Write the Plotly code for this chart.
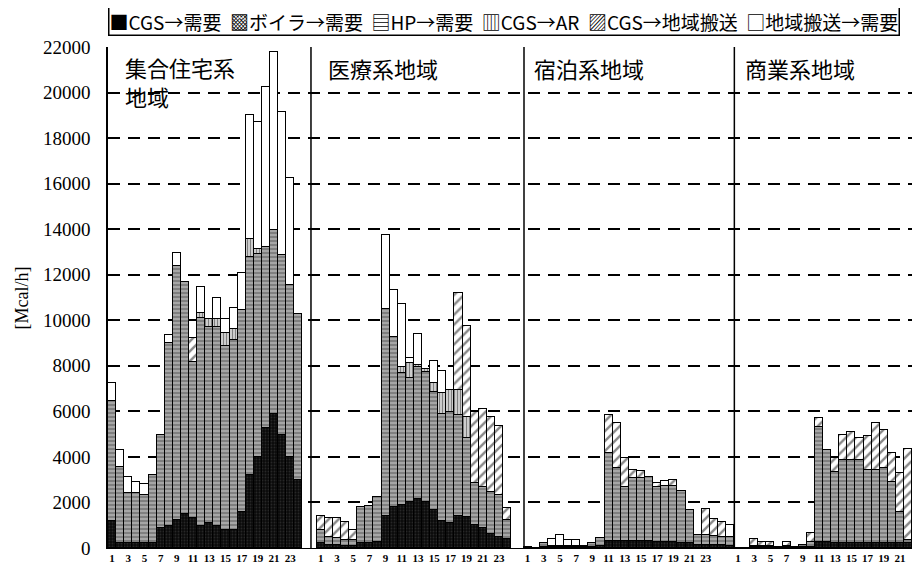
import plotly.graph_objects as go

# 時刻 (panel 3 shows 26 slots in the source figure)
hours24 = list(range(1, 25))
hours26 = list(range(1, 27))

panels = ["集合住宅系<br>地域", "医療系地域", "宿泊系地域", "商業系地域"]

# [Mcal/h]  CGS→需要
cgs1 = [1200, 200, 200, 200, 200, 200, 900, 950, 1250, 1500, 1300, 950, 1100, 950, 800, 800, 1600, 3200, 4000, 5250, 5900, 4950, 4000, 3000]
cgs2 = [200, 150, 150, 100, 100, 200, 200, 250, 1400, 1800, 1900, 2000, 2150, 2000, 1650, 1200, 1100, 1400, 1350, 1000, 900, 600, 500, 400]
cgs3 = [0, 0, 50, 30, 30, 30, 30, 30, 50, 80, 300, 300, 300, 300, 300, 300, 250, 250, 250, 200, 200, 150, 150, 150, 150, 100]
cgs4 = [0, 0, 30, 30, 30, 0, 30, 0, 30, 50, 250, 250, 200, 200, 200, 200, 200, 200, 200, 200, 200, 200, 200, 200]

# ボイラ→需要 (not visible in any bar)
boil1 = [0] * 24
boil2 = [0] * 24
boil3 = [0] * 26
boil4 = [0] * 24

# HP→需要
hp1 = [5250, 3370, 2230, 2230, 2130, 3000, 4060, 8050, 11130, 10200, 6850, 9140, 8590, 8740, 8070, 8330, 8850, 9600, 8900, 7950, 8070, 7920, 7550, 7260]
hp2 = [600, 350, 300, 260, 260, 1590, 1640, 1970, 9080, 7480, 5800, 5450, 5810, 5750, 5220, 4700, 4890, 4440, 3470, 1840, 1770, 1870, 1830, 830]
hp3 = [50, 0, 180, 70, 70, 50, 50, 70, 150, 340, 3890, 3200, 2400, 2760, 2760, 2830, 2440, 2470, 2470, 2320, 1470, 420, 420, 380, 350, 370]
hp4 = [0, 0, 70, 50, 50, 30, 50, 30, 100, 230, 5080, 4050, 3150, 3660, 3660, 3660, 3230, 3230, 3300, 2710, 1400, 150, 100, 100]

# CGS→AR
ar1 = [0, 0, 0, 0, 0, 0, 0, 0, 0, 0, 0, 210, 370, 370, 560, 470, 0, 750, 220, 0, 0, 0, 0, 0]
ar2 = [0, 0, 0, 0, 0, 0, 0, 0, 0, 0, 260, 660, 80, 100, 360, 890, 950, 1100, 950, 0, 0, 0, 0, 0]
ar3 = [0] * 26
ar4 = [0] * 24

# CGS→地域搬送
ex1 = [0, 0, 0, 0, 0, 0, 0, 0, 0, 0, 1050, 0, 0, 0, 0, 0, 0, 0, 0, 0, 0, 0, 0, 0]
ex2 = [600, 830, 850, 800, 430, 0, 0, 0, 0, 0, 0, 0, 0, 0, 0, 0, 0, 4240, 3980, 3120, 3420, 3270, 3030, 510]
ex3 = [0, 0, 0, 0, 0, 0, 0, 0, 0, 0, 1650, 2000, 1240, 370, 300, 0, 180, 0, 270, 0, 0, 0, 1130, 730, 660, 0]
ex4 = [0, 0, 280, 200, 170, 0, 200, 0, 0, 360, 370, 0, 590, 1100, 1240, 990, 1490, 2070, 1700, 1280, 1680, 3980, 3340, 2250]

# 地域搬送→需要
im1 = [800, 730, 690, 480, 470, 0, 0, 350, 590, 0, 0, 1170, 0, 900, 610, 930, 1610, 5450, 5600, 7060, 7830, 6290, 4690, 0]
im2 = [0, 0, 0, 0, 0, 0, 0, 0, 3270, 2050, 2760, 220, 1340, 0, 1000, 1000, 0, 0, 0, 0, 0, 0, 0, 0]
im3 = [0, 0, 0, 300, 470, 270, 250, 0, 0, 0, 0, 0, 0, 0, 0, 0, 0, 220, 0, 0, 0, 0, 0, 0, 0, 530]
im4 = [0] * 24

tick_hours = [1, 3, 5, 7, 9, 11, 13, 15, 17, 19, 21, 23]

# legend glyphs as printed in the original key
legend_marks = ["■", "▩", "▤", "▥", "▨", "□"]

# panel placement along the shared x axis (slot units)
offsets = [0, 25.77, 51.3, 77.28]
separators = [25.56, 51.86, 77.83]
panel_hours = [hours24, hours24, hours26, hours24]

series = [
    ("CGS→需要", [cgs1, cgs2, cgs3, cgs4], dict(color="#111111", pattern=dict(shape=".", fgcolor="#444444", bgcolor="#0a0a0a", size=3, solidity=0.3))),
    ("ボイラ→需要", [boil1, boil2, boil3, boil4], dict(color="#777777", pattern=dict(shape="x", fgcolor="#222222", bgcolor="#bbbbbb", size=3, solidity=0.5))),
    ("HP→需要", [hp1, hp2, hp3, hp4], dict(color="#333333", pattern=dict(shape="-", fgcolor="#000000", bgcolor="#ffffff", size=4, solidity=0.85))),
    ("CGS→AR", [ar1, ar2, ar3, ar4], dict(color="#444444", pattern=dict(shape="|", fgcolor="#000000", bgcolor="#ffffff", size=3, solidity=0.6))),
    ("CGS→地域搬送", [ex1, ex2, ex3, ex4], dict(color="#ffffff", pattern=dict(shape="/", fgcolor="#111111", bgcolor="#ffffff", size=7, solidity=0.35))),
    ("地域搬送→需要", [im1, im2, im3, im4], dict(color="#ffffff")),
]

fig = go.Figure()
for name, vals, mk in series:
    xs, ys = [], []
    for p in range(4):
        xs += [offsets[p] + h for h in panel_hours[p]]
        ys += vals[p]
    mk = dict(mk)
    mk["line"] = dict(color="black", width=1)
    fig.add_trace(go.Bar(x=xs, y=ys, name=name, width=1, marker=mk))

tickvals, ticktext = [], []
for p in range(4):
    for h in tick_hours:
        tickvals.append(offsets[p] + h)
        ticktext.append(str(h))

for s in separators:
    fig.add_shape(type="line", xref="x", yref="y", x0=s, x1=s, y0=0, y1=22000,
                  line=dict(color="black", width=1.5))

# key box along the top
key_text = "\u00a0 ".join(m + s[0] for m, s in zip(legend_marks, series))
fig.add_annotation(x=0, y=1.081, xref="paper", yref="paper", text=key_text, showarrow=False,
                   xanchor="left", yanchor="top", bordercolor="black", borderwidth=1.5,
                   borderpad=0, bgcolor="white",
                   font=dict(family="Noto Sans CJK JP", size=19, color="black"))

# white patch so the 20000 grid line breaks around the second title line
fig.add_shape(type="rect", xref="x", yref="y", x0=offsets[0] + 2.1, x1=offsets[0] + 8.0,
              y0=19500, y1=20500, fillcolor="white", line=dict(width=0), layer="below")

# panel titles
fig.add_annotation(x=offsets[0] + 2.3, y=20475, xref="x", yref="y", text=panels[0], showarrow=False,
                   xanchor="left", yanchor="middle", align="left",
                   font=dict(family="Noto Sans CJK JP", size=22, color="black"))
for p in range(1, 4):
    fig.add_annotation(x=offsets[p] + 1.6, y=21100, xref="x", yref="y", text=panels[p], showarrow=False,
                       xanchor="left", yanchor="middle", font=dict(family="Noto Sans CJK JP", size=22, color="black"))

fig.add_annotation(x=-0.106, y=0.5, xref="paper", yref="paper", text="[Mcal/h]", showarrow=False,
                   xanchor="center", yanchor="middle", textangle=-90,
                   font=dict(family="Liberation Serif", size=18, color="black"))

# the page body adds an 8px margin, so the figure is drawn 8px smaller and offset
fig.update_layout(
    width=912, height=570,
    barmode="stack", bargap=0, showlegend=False,
    plot_bgcolor="white", paper_bgcolor="white",
    margin=dict(l=100, r=0, t=39, b=30),
    font=dict(family="Liberation Serif", color="black"),
)
fig.update_xaxes(range=[0.5, 100.75], tickvals=tickvals, ticktext=ticktext, showgrid=False,
                 showline=True, linecolor="black", linewidth=1, ticks="", automargin=False,
                 tickfont=dict(family="Liberation Serif", size=11, weight="bold", color="black"))
fig.update_yaxes(range=[0, 22000], dtick=2000, tickformat="d", showgrid=True, gridcolor="black", gridwidth=1.5,
                 griddash="12px,8px", showline=True, linecolor="black", linewidth=1.5,
                 zeroline=False, ticks="", ticklabelstandoff=12, automargin=False,
                 tickfont=dict(family="Liberation Serif", size=19, color="black"))

fig.write_html("out.html")
